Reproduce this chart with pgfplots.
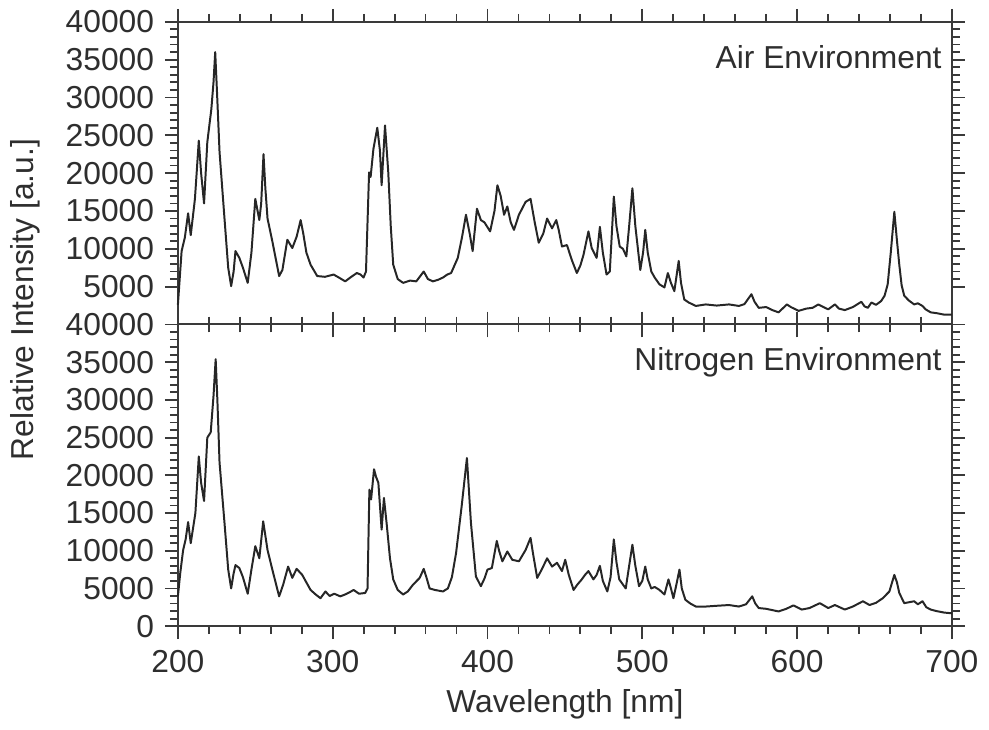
\documentclass[border=0pt]{standalone}
\usepackage{fontspec}
\setmainfont{Liberation Sans}
\usepackage{pgfplots}
\pgfplotsset{compat=1.18}
\definecolor{txt}{HTML}{2E2E2E}
\definecolor{ln}{HTML}{262626}
\definecolor{ax}{HTML}{3A3A3A}
\pgfplotsset{
  spec/.style={
    scale only axis, width=390pt,
    xmin=200, xmax=700, ymin=0, ymax=40000,
    xtick={200,300,...,700}, minor x tick num=4, minor y tick num=4,
    tick align=outside, xtick pos=both, ytick pos=both,
    major tick length=6.5pt, minor tick length=4pt,
    axis line style={ax, line width=1pt},
    every tick/.style={ax, line width=0.9pt},
    scaled ticks=false,
    /pgf/number format/.cd, 1000 sep={}, assume math mode=true,
    /pgfplots/.cd,
    tick label style={txt},
    label style={txt},
    yticklabel pos=left, xticklabel pos=lower,
    clip=false,
  },
  specline/.style={ln, line width=1pt, no marks, line join=round},
}
\begin{document}
\fontsize{16}{19}\selectfont
\begin{tikzpicture}
\begin{axis}[spec, name=bot, height=152pt,
  ytick={0,5000,...,40000},
  xlabel={Wavelength [nm]},
  xlabel style={at={(rel axis cs:0.5,0)}, anchor=north, yshift=-26.5pt},
  ylabel={Relative Intensity [a.u.]},
  ylabel style={at={(ticklabel cs:1.083,2pt)}},
]
\addplot[specline] coordinates {
(200,3950) (201.5,7000) (203.4,10100) (205,11500) (206.6,13800) (208.3,11000) (211.3,15000) (213.5,22500) (215,19000) (216.9,16600) (219,25000) (221.2,25700) (223,30500) (224.4,35400) (225.5,30000) (226.9,21700) (230.1,13700) (232.5,7500) (234.4,5000) (236,7000) (237.2,8100) (239.7,7700) (242,6500) (245.1,4300) (247.5,7500) (250,10600) (252.6,9000) (255.1,13900) (256.5,12000) (257.9,10100) (261,7500) (265.4,3950) (268,5500) (271.2,7900) (273.9,6400) (276.7,7600) (280.3,6800) (283,5800) (285.7,4800) (289,4200) (292.1,3700) (295.3,4600) (298,4000) (301,4300) (304.9,3950) (308,4200) (311,4500) (313.5,4800) (317,4300) (321,4400) (322.5,5000) (323.7,18100) (324.8,16800) (326.7,20800) (328,19800) (329.5,19000) (331.6,12800) (333.1,17000) (334.8,13700) (337,9000) (339.1,6200) (342,4800) (345.5,4200) (348.5,4600) (351.9,5500) (356.2,6400) (358.8,7600) (360.5,6500) (362.6,5000) (366,4800) (371.2,4600) (374.4,5000) (377,6500) (379.7,9700) (383.3,15900) (386.7,22300) (389.3,13700) (392.5,6600) (395.7,5300) (398,6300) (400,7500) (402.8,7700) (406,11300) (407.5,10000) (409.6,8600) (412.8,9900) (416,8800) (420.3,8600) (424.6,10100) (427.8,11700) (429.5,9500) (432.1,6400) (435,7500) (438.5,9000) (441.7,7900) (444.9,8400) (448.1,7300) (450.2,8800) (452.5,6800) (455.6,4800) (458,5500) (460.9,6200) (463,6800) (465.2,7300) (468.4,6200) (470.5,6800) (472.6,8000) (474.5,6000) (477.4,4600) (479.5,6500) (481.6,11500) (483.3,8500) (485.1,6200) (489.3,5000) (491.5,8000) (493.6,10800) (495.5,8000) (497.9,5300) (500,6000) (501.9,7900) (503.5,6200) (505.8,5000) (508,5200) (511.1,4800) (514.3,4200) (516.9,6200) (518.5,5000) (520.1,3700) (522,5500) (524,7500) (525.5,5000) (527.8,3500) (531,3000) (534.6,2600) (541,2600) (548,2700) (556,2800) (562.4,2600) (567,2900) (571,3950) (573,3000) (575.2,2400) (580,2300) (588,1950) (593,2300) (597.6,2750) (603,2200) (608,2400) (614.7,3050) (620.1,2400) (624.4,2800) (630.8,2200) (636,2600) (642.5,3300) (646.8,2800) (651,3100) (655.3,3700) (659.6,4600) (662.8,6800) (664.5,5800) (666,4400) (669.2,3050) (675.6,3300) (678,2900) (681,3300) (683.5,2500) (686.3,2200) (690,2000) (695,1800) (700,1700)
};
\node[anchor=north east, inner sep=0pt, txt] at (rel axis cs:1,1) [xshift=-5pt, yshift=-11.5pt] {Nitrogen Environment};
\end{axis}
\begin{axis}[spec, name=top, height=152.5pt, at={(0,152pt)}, anchor=south west,
  ytick={5000,10000,...,40000}, xticklabels={},
]
\addplot[specline] coordinates {
(200,2600) (202.4,9700) (204.5,11500) (206.6,14700) (208.3,11800) (211,16600) (213.5,24300) (215,20000) (216.9,16000) (219,24100) (221.6,28450) (223,32000) (224.1,36000) (225.2,31000) (226.9,22800) (230.1,14000) (232.5,7500) (234.4,5070) (236,7000) (237.2,9700) (239.7,8800) (242,7500) (245.1,5500) (247.5,9500) (250,16600) (252.6,13800) (253.8,16000) (255.3,22500) (256.5,18000) (257.9,14000) (261,11000) (265.4,6400) (267.5,7200) (270.7,11200) (273.9,10100) (276.7,11600) (279.3,13800) (281,12000) (283,9500) (285.7,7900) (290,6400) (295,6300) (300.6,6600) (304,6200) (308.1,5700) (312,6300) (315.6,6800) (318,6600) (319.9,6200) (321.5,7000) (323.5,20100) (324.5,19500) (326.3,23200) (328.8,26000) (330.5,23000) (331.6,18400) (333.8,26300) (335.9,20100) (337.5,13000) (339.1,7900) (342,6000) (345.5,5500) (350,5800) (354,5700) (358.8,7000) (361.5,6000) (364.7,5700) (368,5900) (371.2,6200) (374,6600) (376.5,6800) (380.8,8800) (383.5,11500) (386.1,14500) (388.5,12000) (390.4,9700) (393.2,15300) (395.7,13800) (398,13500) (401.7,12300) (404.5,15000) (406.4,18400) (408.5,17000) (410.7,14500) (412.8,15600) (415,13500) (417.1,12500) (420.3,14500) (424.6,16200) (427.8,16600) (430.5,13500) (433.1,10800) (436,12000) (438.5,14000) (441.7,12700) (444.4,13800) (446,12500) (448.1,10300) (451.3,10500) (454.5,8500) (457.7,6800) (460,7800) (462,9200) (465.2,12300) (467.3,10100) (470.5,8800) (472.6,12900) (474.5,9500) (476.9,6600) (479,7000) (481.6,16900) (483.3,13000) (485.4,10300) (487.5,10000) (489.7,9000) (491.5,13000) (493.6,18000) (495.5,13000) (498.7,7200) (500.5,9500) (501.9,12500) (503.5,9500) (505.8,7000) (508,6200) (511.1,5300) (514.3,4900) (516.5,6800) (518.5,5500) (520.7,4400) (523.5,8400) (525,5500) (527.1,3300) (530,2900) (534.6,2450) (541,2650) (548,2500) (556,2650) (562.4,2450) (566,2700) (570.5,4000) (572.5,3000) (575.2,2200) (580,2300) (584,1900) (588,1600) (593.4,2650) (596,2300) (600.9,1800) (606,2100) (610,2200) (613.7,2650) (617,2300) (620.1,2000) (624.4,2650) (627,2100) (630.8,1900) (636,2300) (641.5,3000) (643.5,2400) (645.7,2200) (648,2900) (651,2600) (654.3,3100) (656.5,3800) (658.5,5300) (660.5,9500) (662.8,14900) (664.3,11500) (666,7900) (667.5,5200) (669.2,3800) (672,3200) (675.6,2650) (678,2800) (681,2450) (683,2000) (686.3,1600) (690,1500) (695,1300) (700,1300)
};
\node[anchor=north east, inner sep=0pt, txt] at (rel axis cs:1,1) [xshift=-5pt, yshift=-11.5pt] {Air Environment};
\end{axis}
\end{tikzpicture}
\end{document}
